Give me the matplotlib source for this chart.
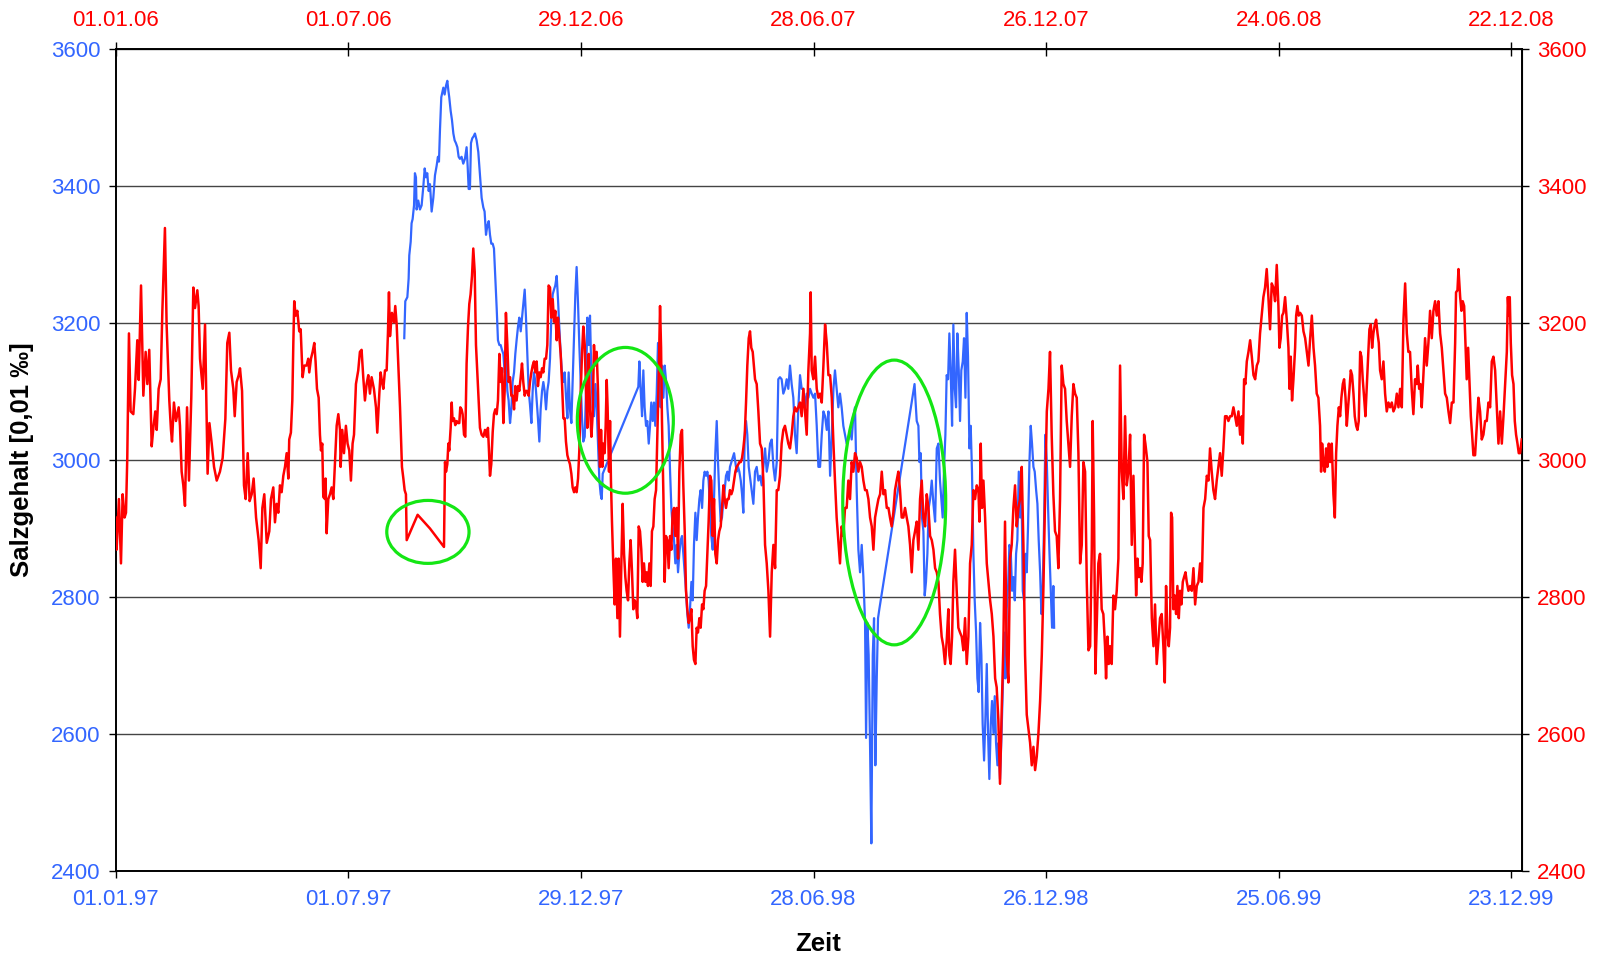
# Salzgehalt: Vergleich 1997-1999 (blau, untere Achse) mit 2006-2008 (rot, obere Achse)
import matplotlib
matplotlib.use("Agg")
import matplotlib.pyplot as plt
import matplotlib.dates as mdates
from matplotlib.patches import Ellipse
import pandas as pd

plt.rcParams['font.family'] = ['Liberation Sans', 'DejaVu Sans']

# rote Reihe: Tage ab 01.01.06, Salzgehalt [0,01 promille]
red_day = [
    0.0, 0.8, 2.6, 4.2, 5.5, 7.0, 8.1, 9.1, 10.4, 11.7,
    13.8, 15.1, 16.9, 18.0, 19.8, 21.6, 23.4, 24.7, 26.2, 28.1,
    29.4, 30.9, 32.0, 33.5, 35.1, 36.4, 38.4, 39.7, 41.8, 43.1,
    43.9, 45.4, 47.0, 49.1, 50.1, 51.4, 52.7, 54.0, 55.6, 57.1,
    58.9, 60.5, 61.8, 63.6, 64.6, 65.7, 67.8, 69.6, 70.9, 71.6,
    73.0, 74.8, 76.6, 78.7, 81.2, 83.3, 85.4, 86.9, 88.5, 89.8,
    91.6, 92.7, 94.2, 95.8, 96.8, 98.4, 99.9, 101.2, 102.8, 104.3,
    105.9, 107.4, 109.3, 111.3, 112.9, 114.2, 115.7, 117.6, 119.6, 120.9,
    122.7, 124.0, 125.3, 126.6, 127.9, 129.2, 130.5, 131.8, 133.1, 134.4,
    135.1, 136.4, 137.5, 138.3, 139.0, 140.1, 141.4, 142.9, 144.0, 145.5,
    146.8, 148.6, 149.9, 150.7, 152.0, 153.3, 154.6, 155.6, 156.7, 158.0,
    159.0, 159.8, 160.8, 161.6, 162.9, 163.4, 164.2, 165.5, 166.8, 168.1,
    169.4, 170.7, 172.0, 173.3, 174.6, 175.1, 176.4, 177.7, 179.2, 180.5,
    181.8, 183.1, 184.4, 185.5, 187.0, 188.8, 190.1, 191.4, 192.7, 194.0,
    195.3, 196.6, 197.9, 199.2, 201.0, 202.6, 203.6, 205.2, 206.2, 207.3,
    208.3, 209.6, 210.9, 211.9, 212.7, 213.5, 215.0, 216.6, 217.6, 218.7,
    219.7, 221.3, 222.8, 223.9, 224.9, 225.9, 226.5, 235.0, 244.6, 255.5,
    256.3, 257.1, 258.1, 258.9, 259.6, 260.7, 261.5, 262.2, 263.3, 264.3,
    265.4, 266.4, 267.4, 268.2, 269.2, 270.0, 271.1, 272.1, 273.1, 274.2,
    275.2, 276.2, 277.3, 278.3, 279.4, 280.4, 281.4, 282.5, 283.5, 284.8,
    286.1, 287.4, 288.7, 289.7, 290.5, 291.3, 292.3, 293.4, 294.4, 295.4,
    296.5, 297.5, 298.6, 299.6, 300.6, 301.7, 302.7, 303.7, 304.8, 305.8,
    306.9, 307.9, 308.9, 310.0, 311.0, 312.0, 313.1, 314.1, 315.2, 316.2,
    317.2, 318.3, 319.3, 320.3, 321.4, 322.4, 323.5, 324.5, 325.5, 326.6,
    327.6, 328.6, 329.7, 330.7, 331.8, 332.8, 333.8, 334.9, 335.9, 336.9,
    338.0, 339.0, 340.1, 341.1, 342.1, 343.2, 344.2, 345.2, 346.3, 347.3,
    348.4, 349.4, 350.4, 351.5, 352.5, 353.5, 354.6, 355.6, 356.7, 357.7,
    358.7, 359.8, 360.8, 361.9, 362.9, 363.9, 365.0, 366.0, 367.0, 368.1,
    369.1, 370.2, 371.2, 372.2, 373.0, 374.3, 375.3, 376.1, 376.9, 377.7,
    378.7, 379.5, 380.5, 381.3, 382.1, 382.8, 383.9, 384.7, 385.4, 386.2,
    387.3, 388.3, 389.3, 390.4, 391.4, 392.4, 393.5, 394.5, 395.6, 396.6,
    397.6, 398.7, 399.7, 400.7, 401.8, 402.8, 403.9, 404.9, 405.9, 407.0,
    408.0, 409.0, 410.1, 411.1, 412.2, 413.2, 414.2, 415.3, 416.3, 417.3,
    418.4, 419.4, 420.5, 421.5, 422.5, 423.6, 424.4, 425.1, 426.2, 427.2,
    428.2, 429.3, 430.3, 431.4, 432.4, 433.4, 434.5, 435.5, 436.5, 437.6,
    438.6, 439.7, 440.7, 441.7, 442.8, 443.8, 444.8, 445.9, 446.9, 448.0,
    449.0, 450.0, 451.1, 452.1, 453.1, 454.2, 455.2, 456.3, 457.3, 458.3,
    459.4, 460.4, 461.4, 462.5, 463.5, 464.6, 465.6, 466.6, 467.7, 468.7,
    469.7, 470.8, 471.8, 472.9, 473.9, 474.9, 476.0, 477.0, 478.0, 479.1,
    480.1, 481.2, 482.2, 483.2, 484.3, 485.3, 486.4, 487.4, 488.4, 489.5,
    490.5, 491.5, 492.6, 493.6, 494.6, 495.7, 497.5, 498.8, 500.1, 501.4,
    502.7, 504.0, 505.3, 506.6, 507.9, 509.2, 510.5, 511.8, 513.1, 514.4,
    515.6, 516.9, 518.2, 519.5, 520.8, 522.1, 523.4, 524.7, 526.0, 527.3,
    528.6, 529.9, 531.2, 532.5, 533.8, 535.1, 536.4, 537.7, 539.0, 540.3,
    540.8, 541.6, 542.9, 544.2, 545.5, 546.8, 548.1, 549.4, 550.7, 552.0,
    553.3, 554.6, 555.9, 557.2, 558.5, 559.7, 561.0, 562.3, 563.6, 564.9,
    566.2, 567.5, 568.8, 570.1, 571.4, 572.7, 574.0, 575.3, 576.6, 577.9,
    579.2, 580.5, 581.8, 583.1, 584.4, 585.7, 587.0, 588.3, 589.6, 590.9,
    592.2, 593.5, 594.8, 596.1, 597.4, 598.7, 600.0, 601.3, 602.5, 603.8,
    605.1, 606.4, 607.7, 609.0, 610.3, 611.6, 612.9, 614.2, 615.5, 616.8,
    618.1, 619.4, 620.7, 622.0, 623.3, 624.6, 625.9, 627.2, 628.5, 629.8,
    631.1, 632.4, 633.7, 635.0, 636.3, 637.6, 638.9, 640.2, 641.4, 642.7,
    644.0, 645.3, 646.6, 647.9, 648.7, 649.7, 650.8, 651.8, 653.1, 654.4,
    655.7, 657.0, 658.3, 659.6, 660.9, 662.2, 663.5, 664.8, 666.1, 667.4,
    668.7, 670.0, 671.3, 672.1, 673.1, 674.1, 675.2, 676.5, 677.8, 679.1,
    680.4, 681.7, 683.0, 684.3, 685.5, 686.8, 688.1, 689.4, 690.7, 692.0,
    693.3, 694.6, 695.9, 697.2, 698.5, 699.8, 701.1, 702.4, 703.7, 705.0,
    706.3, 707.6, 708.9, 710.2, 711.5, 712.8, 714.1, 715.4, 716.7, 718.0,
    719.3, 720.6, 721.9, 723.2, 724.5, 725.8, 727.0, 728.3, 729.6, 730.9,
    732.2, 733.5, 734.8, 736.1, 737.4, 738.7, 740.0, 741.3, 742.6, 743.9,
    745.2, 746.5, 747.8, 749.1, 750.4, 751.7, 753.0, 754.3, 755.6, 756.9,
    758.2, 759.5, 760.2, 761.3, 762.3, 763.4, 764.6, 765.9, 767.2, 768.5,
    769.8, 770.6, 771.7, 772.7, 773.7, 775.0, 776.3, 777.6, 778.9, 780.2,
    781.5, 782.8, 784.1, 785.4, 786.7, 788.0, 789.3, 790.6, 791.9, 793.2,
    794.0, 795.0, 796.0, 797.1, 798.1, 799.1, 800.2, 801.2, 802.8, 803.8,
    804.9, 806.2, 807.5, 808.7, 810.0, 811.3, 812.6, 813.9, 815.2, 816.3,
    817.3, 818.3, 819.4, 820.4, 821.2, 822.0, 823.0, 824.1, 825.1, 826.1,
    827.2, 828.2, 829.2, 830.3, 831.3, 832.4, 833.4, 834.7, 836.0, 837.3,
    838.6, 839.9, 841.2, 842.5, 843.8, 845.1, 846.4, 847.7, 849.0, 850.3,
    851.5, 852.8, 854.1, 855.4, 856.7, 858.0, 859.3, 860.6, 861.9, 863.2,
    864.5, 865.8, 867.1, 868.4, 869.7, 871.0, 872.3, 873.6, 874.9, 876.2,
    877.0, 878.0, 879.0, 880.1, 881.4, 882.7, 884.0, 885.3, 886.6, 887.9,
    889.1, 890.4, 891.7, 893.0, 894.3, 895.6, 896.9, 898.2, 899.5, 900.8,
    902.1, 903.4, 904.7, 905.5, 906.5, 907.6, 908.6, 909.9, 911.2, 912.5,
    913.3, 914.3, 915.3, 916.4, 917.7, 918.5, 919.5, 920.5, 921.6, 922.9,
    924.2, 925.5, 926.8, 928.1, 929.4, 930.7, 932.0, 933.2, 934.5, 935.8,
    937.1, 937.9, 938.7, 939.7, 940.8, 941.8, 942.8, 943.9, 944.9, 946.2,
    947.5, 948.6, 949.6, 950.6, 951.7, 952.7, 953.7, 954.8, 955.8, 956.9,
    957.9, 958.9, 960.0, 961.0, 962.0, 963.1, 964.1, 965.2, 966.2, 967.2,
    968.3, 969.3, 970.3, 971.4, 972.4, 973.5, 974.5, 975.5, 976.6, 977.6,
    978.6, 979.7, 980.7, 981.8, 982.8, 983.8, 985.1, 986.4, 987.7, 989.0,
    990.3, 991.6, 992.9, 994.2, 995.5, 996.8, 998.1, 999.4, 1000.7, 1002.0,
    1003.3, 1004.6, 1005.8, 1007.1, 1008.4, 1009.7, 1011.0, 1012.3, 1013.1, 1014.2,
    1015.2, 1016.2, 1017.5, 1018.8, 1020.1, 1021.4, 1022.7, 1024.0, 1025.3, 1026.6,
    1027.9, 1029.2, 1030.5, 1031.8, 1033.1, 1034.4, 1035.7, 1037.0, 1038.3, 1039.6,
    1040.9, 1042.2, 1042.9, 1044.0, 1044.8, 1046.1, 1047.1, 1048.1, 1049.2, 1050.2,
    1051.2, 1052.3, 1053.3, 1054.4, 1055.4, 1056.4, 1057.7, 1059.0, 1060.3, 1061.6,
    1062.9, 1064.2, 1065.5, 1066.8, 1068.1, 1069.4, 1070.7, 1072.0, 1073.3, 1074.6,
    1075.9, 1077.2, 1078.5, 1079.8, 1081.1, 1082.4, 1083.2, 1083.9, 1084.7, 1085.5,
    1086.5, 1087.6, 1088.6, 1089.6, 1090.7, 1091.7, 1092.7, 1094.0,
]
red_val = [
    2916, 2869, 2943, 2849, 2950, 2916, 2923, 3003, 3185, 3071,
    3067, 3104, 3175, 3117, 3255, 3094, 3158, 3111, 3161, 3020,
    3047, 3071, 3044, 3104, 3118, 3218, 3339, 3198, 3087, 3044,
    3027, 3084, 3057, 3077, 3050, 2983, 2963, 2933, 3077, 2970,
    3091, 3252, 3222, 3248, 3225, 3148, 3104, 3198, 3050, 2980,
    3054, 3024, 2990, 2970, 2983, 3003, 3060, 3171, 3186, 3131,
    3104, 3064, 3114, 3124, 3134, 3101, 2963, 2943, 3010, 2940,
    2950, 2973, 2916, 2883, 2842, 2930, 2950, 2879, 2896, 2943,
    2960, 2909, 2936, 2923, 2963, 2953, 2977, 2990, 3010, 2973,
    3030, 3040, 3087, 3171, 3232, 3211, 3218, 3188, 3191, 3121,
    3138, 3138, 3148, 3128, 3148, 3158, 3171, 3144, 3104, 3091,
    3037, 3014, 3024, 2946, 2943, 2973, 2893, 2943, 2950, 2960,
    2943, 2997, 3050, 3067, 3044, 2990, 3044, 3010, 3050, 3024,
    3014, 2970, 3024, 3037, 3111, 3131, 3158, 3161, 3121, 3087,
    3111, 3124, 3097, 3121, 3104, 3077, 3040, 3097, 3128, 3114,
    3104, 3131, 3131, 3185, 3245, 3181, 3215, 3201, 3225, 3198,
    3151, 3077, 2990, 2973, 2956, 2950, 2883, 2920, 2900, 2873,
    2997, 2983, 2994, 3024, 3014, 3047, 3084, 3057, 3061, 3051,
    3057, 3054, 3054, 3077, 3074, 3067, 3037, 3034, 3141, 3195,
    3228, 3242, 3269, 3309, 3275, 3168, 3128, 3087, 3047, 3037,
    3034, 3044, 3034, 3047, 3014, 2977, 2994, 3041, 3067, 3074,
    3067, 3087, 3155, 3114, 3134, 3054, 3101, 3215, 3168, 3114,
    3121, 3094, 3094, 3074, 3108, 3087, 3108, 3101, 3121, 3141,
    3114, 3094, 3101, 3101, 3094, 3114, 3128, 3138, 3144, 3128,
    3144, 3108, 3128, 3121, 3134, 3128, 3148, 3148, 3168, 3255,
    3252, 3208, 3235, 3202, 3218, 3175, 3208, 3181, 3155, 3114,
    3061, 3061, 3027, 3007, 3000, 2994, 2980, 2960, 2953, 2960,
    2953, 2973, 3014, 3101, 3155, 3195, 3168, 3101, 3047, 3155,
    3074, 3034, 3067, 3168, 3138, 3158, 3104, 3030, 2990, 3044,
    2990, 3024, 3010, 3050, 3117, 3077, 2983, 3057, 2970, 2910,
    2842, 2789, 2856, 2769, 2856, 2742, 2849, 2936, 2863, 2829,
    2809, 2795, 2849, 2883, 2836, 2782, 2795, 2789, 2769, 2903,
    2896, 2869, 2822, 2849, 2822, 2836, 2816, 2849, 2816, 2896,
    2903, 2943, 2956, 3037, 3117, 3225, 3164, 3057, 2950, 2822,
    2889, 2883, 2842, 2889, 2869, 2923, 2930, 2889, 2930, 2856,
    2983, 3037, 3044, 2963, 2896, 2809, 2782, 2762, 2769, 2782,
    2728, 2708, 2702, 2755, 2748, 2769, 2755, 2789, 2782, 2809,
    2816, 2863, 2910, 2977, 2970, 2889, 2943, 2863, 2849, 2883,
    2896, 2903, 2930, 2963, 2943, 2930, 2943, 2943, 2956, 2950,
    2956, 2970, 2983, 2990, 2993, 2997, 2997, 3003, 3017, 3037,
    3084, 3138, 3178, 3188, 3164, 3158, 3118, 3111, 3071, 3024,
    3017, 2970, 2876, 2849, 2809, 2742, 2836, 2876, 2842, 2956,
    2956, 2977, 3024, 3044, 3050, 3037, 3024, 3017, 3037, 3064,
    3077, 3071, 3077, 3084, 3064, 3104, 3071, 3037, 3131, 3185,
    3245, 3131, 3118, 3151, 3104, 3091, 3097, 3084, 3138, 3198,
    3171, 3124, 3124, 3091, 3024, 2970, 2916, 2883, 2849, 2903,
    2889, 2930, 2930, 2970, 2943, 2997, 2983, 3010, 3003, 2983,
    2997, 2990, 2970, 2956, 2956, 2943, 2916, 2903, 2869, 2916,
    2930, 2943, 2950, 2983, 2950, 2956, 2930, 2930, 2916, 2903,
    2923, 2956, 2970, 2983, 2956, 2916, 2916, 2930, 2916, 2903,
    2876, 2836, 2883, 2896, 2910, 2869, 2943, 2970, 2916, 2903,
    2950, 2930, 2889, 2883, 2869, 2842, 2836, 2822, 2775, 2742,
    2728, 2702, 2735, 2782, 2715, 2702, 2742, 2822, 2869, 2809,
    2755, 2748, 2742, 2722, 2769, 2702, 2742, 2849, 2876, 2956,
    2943, 2963, 2956, 2910, 3024, 2930, 2970, 2916, 2849, 2822,
    2795, 2775, 2742, 2681, 2668, 2621, 2527, 2634, 2728, 2910,
    2715, 2675, 2856, 2876, 2930, 2963, 2903, 2930, 2943, 2990,
    2876, 2715, 2628, 2608, 2587, 2554, 2581, 2547, 2567, 2601,
    2648, 2715, 2816, 2950, 3071, 3104, 3158, 3037, 2950, 2896,
    2889, 2842, 2943, 3138, 3111, 3104, 3057, 3024, 2990, 3064,
    3111, 3097, 3091, 3010, 2849, 2876, 2997, 2983, 2822, 2722,
    2728, 2869, 3057, 2916, 2688, 2762, 2849, 2863, 2782, 2775,
    2728, 2681, 2742, 2702, 2728, 2702, 2802, 2782, 2809, 2856,
    3138, 2983, 2943, 3064, 2963, 2983, 3037, 2876, 2977, 2863,
    2802, 2856, 2829, 2842, 2822, 2849, 3037, 3024, 2997, 2889,
    2883, 2769, 2728, 2789, 2702, 2735, 2769, 2775, 2728, 2675,
    2816, 2748, 2728, 2755, 2923, 2916, 2782, 2802, 2775, 2816,
    2769, 2809, 2789, 2822, 2829, 2836, 2822, 2809, 2816, 2809,
    2842, 2789, 2816, 2822, 2849, 2822, 2930, 2943, 2977, 2970,
    3017, 2983, 2956, 2943, 2970, 2990, 3010, 2977, 3017, 3064,
    3064, 3057, 3064, 3064, 3077, 3064, 3050, 3071, 3037, 3064,
    3024, 3118, 3111, 3144, 3158, 3175, 3151, 3124, 3118, 3138,
    3144, 3185, 3211, 3238, 3252, 3279, 3238, 3191, 3258, 3252,
    3232, 3285, 3225, 3164, 3178, 3211, 3215, 3238, 3205, 3164,
    3104, 3151, 3087, 3118, 3164, 3211, 3225, 3211, 3215, 3211,
    3188, 3178, 3158, 3138, 3178, 3211, 3164, 3138, 3097, 3091,
    3050, 2983, 3024, 2997, 2983, 3017, 2990, 3024, 2997, 3024,
    2950, 2916, 3010, 3050, 3077, 3064, 3091, 3111, 3118, 3091,
    3050, 3077, 3104, 3131, 3124, 3097, 3064, 3050, 3044, 3057,
    3158, 3151, 3118, 3091, 3064, 3111, 3151, 3191, 3198, 3164,
    3185, 3198, 3205, 3185, 3171, 3131, 3118, 3144, 3097, 3071,
    3084, 3077, 3084, 3071, 3077, 3097, 3077, 3104, 3077, 3205,
    3258, 3185, 3158, 3158, 3104, 3067, 3118, 3111, 3138, 3104,
    3111, 3077, 3124, 3178, 3138, 3171, 3218, 3178, 3218, 3232,
    3211, 3232, 3185, 3164, 3131, 3097, 3091, 3071, 3054, 3084,
    3084, 3171, 3245, 3248, 3279, 3238, 3218, 3232, 3225, 3171,
    3118, 3164, 3118, 3064, 3037, 3007, 3007, 3050, 3091, 3071,
    3030, 3037, 3057, 3057, 3084, 3077, 3144, 3151, 3131, 3077,
    3024, 3071, 3024, 3064, 3111, 3158, 3238, 3211, 3238, 3171,
    3124, 3111, 3057, 3037, 3024, 3010, 3010, 3030,
]

# blaue Reihe: Tage ab 01.01.97
blue_day = [
    224.6, 225.4, 227.0, 228.0, 228.5, 229.6, 230.3, 231.1, 232.2, 232.9,
    233.7, 234.2, 235.5, 236.8, 238.1, 239.4, 240.5, 241.5, 242.5, 243.6,
    244.6, 245.9, 247.2, 248.5, 249.8, 250.8, 251.6, 252.4, 253.4, 254.2,
    255.0, 256.0, 257.1, 258.1, 258.9, 259.6, 260.7, 261.7, 262.8, 263.8,
    264.8, 265.9, 266.9, 267.9, 269.2, 270.5, 271.8, 273.1, 273.9, 274.7,
    275.7, 276.5, 277.5, 278.6, 279.6, 280.9, 282.2, 283.5, 284.8, 286.1,
    287.1, 288.2, 289.2, 290.3, 291.3, 292.3, 293.4, 294.4, 295.4, 296.5,
    297.5, 298.6, 299.6, 300.6, 301.7, 302.7, 303.7, 304.8, 305.8, 306.9,
    307.9, 308.9, 310.0, 311.0, 312.0, 313.1, 314.1, 315.2, 316.2, 317.2,
    318.3, 319.3, 320.3, 321.4, 322.4, 323.5, 324.5, 325.5, 326.6, 327.6,
    328.6, 329.7, 330.7, 331.8, 332.8, 333.8, 334.9, 335.9, 336.9, 338.0,
    339.0, 340.1, 341.1, 342.1, 343.2, 344.2, 345.2, 346.3, 347.3, 348.4,
    349.4, 350.4, 351.5, 352.5, 353.5, 354.6, 355.6, 356.7, 357.7, 358.7,
    359.8, 360.8, 361.9, 362.9, 363.9, 365.0, 366.0, 367.0, 368.1, 369.1,
    370.1, 371.2, 372.2, 373.3, 374.3, 375.3, 376.4, 377.4, 378.2, 379.0,
    406.7, 407.5, 408.5, 409.6, 410.6, 411.6, 412.7, 413.7, 414.8, 415.8,
    416.8, 417.9, 418.9, 419.9, 421.0, 422.0, 423.1, 424.1, 425.1, 426.2,
    427.2, 428.2, 429.3, 430.3, 431.4, 432.4, 433.4, 434.5, 435.5, 436.5,
    437.6, 438.6, 439.7, 440.7, 441.7, 442.8, 443.8, 444.8, 445.9, 446.9,
    448.0, 449.0, 450.0, 451.1, 452.1, 453.1, 454.2, 455.2, 456.3, 457.3,
    458.3, 459.4, 460.4, 461.4, 462.5, 463.5, 464.6, 465.6, 466.6, 467.7,
    468.7, 469.7, 470.8, 471.8, 472.9, 473.9, 474.9, 476.0, 477.0, 478.0,
    479.1, 480.1, 481.2, 482.2, 483.2, 484.3, 485.3, 486.4, 487.4, 488.4,
    489.5, 490.5, 491.5, 492.6, 494.9, 496.2, 497.5, 498.8, 500.1, 501.4,
    502.7, 504.0, 505.3, 506.6, 507.9, 509.2, 510.5, 511.8, 513.1, 514.4,
    515.6, 516.9, 518.2, 519.5, 520.8, 522.1, 523.4, 524.7, 526.0, 527.3,
    528.6, 529.9, 531.2, 532.5, 533.8, 535.1, 536.4, 537.7, 539.0, 540.3,
    541.6, 542.9, 544.2, 545.5, 546.8, 548.1, 549.4, 550.7, 552.0, 553.3,
    554.6, 555.9, 557.2, 558.5, 559.7, 561.0, 562.3, 563.6, 564.9, 566.2,
    567.5, 568.8, 570.1, 571.4, 572.7, 574.0, 575.3, 576.6, 577.9, 579.2,
    580.5, 581.8, 583.1, 583.9, 584.9, 585.9, 587.0, 588.0, 589.1, 590.1,
    591.1, 592.2, 593.2, 594.2, 621.6, 623.3, 624.6, 625.4, 626.4, 627.4,
    628.5, 629.5, 630.5, 631.6, 632.6, 633.7, 635.0, 636.3, 637.6, 638.9,
    640.2, 641.4, 642.7, 643.5, 644.6, 645.6, 646.6, 647.7, 648.7, 649.7,
    650.8, 651.8, 652.9, 653.9, 654.9, 656.0, 657.0, 658.0, 659.1, 660.1,
    661.2, 662.2, 663.2, 664.3, 665.3, 666.3, 667.4, 668.4, 669.5, 670.5,
    671.5, 672.6, 673.6, 674.6, 675.7, 676.7, 677.8, 678.8, 679.8, 680.9,
    681.9, 683.0, 684.0, 685.0, 686.1, 687.1, 688.1, 689.2, 690.2, 691.3,
    692.3, 693.3, 694.4, 695.4, 696.4, 697.5, 698.5, 699.6, 700.6, 701.6,
    702.7, 703.7, 704.7, 705.8, 706.8, 707.9, 708.9, 709.9, 711.0, 712.0,
    713.0, 714.1, 715.1, 716.2, 717.2, 718.2, 719.3, 720.3, 721.3, 722.4,
    723.4, 724.5, 725.5, 726.5, 727.6, 728.6, 729.6, 730.2,
]
blue_val = [
    3178, 3232, 3238, 3265, 3299, 3319, 3346, 3352, 3372, 3419,
    3413, 3366, 3379, 3366, 3372, 3399, 3426, 3413, 3419, 3393,
    3403, 3363, 3383, 3416, 3430, 3443, 3436, 3483, 3530, 3537,
    3544, 3534, 3547, 3554, 3540, 3530, 3510, 3497, 3477, 3467,
    3463, 3457, 3443, 3440, 3443, 3433, 3440, 3457, 3430, 3396,
    3396, 3463, 3470, 3473, 3477, 3467, 3450, 3416, 3383, 3369,
    3363, 3329, 3342, 3349, 3329, 3316, 3316, 3309, 3269, 3222,
    3175, 3168, 3168, 3161, 3155, 3128, 3148, 3101, 3087, 3054,
    3074, 3114, 3128, 3155, 3175, 3195, 3208, 3188, 3208, 3228,
    3249, 3208, 3155, 3101, 3081, 3054, 3101, 3128, 3114, 3087,
    3061, 3027, 3074, 3101, 3114, 3101, 3074, 3101, 3114, 3148,
    3208, 3242, 3249, 3255, 3269, 3235, 3195, 3155, 3128, 3114,
    3128, 3094, 3061, 3128, 3074, 3054, 3114, 3181, 3242, 3282,
    3228, 3168, 3114, 3061, 3027, 3034, 3101, 3208, 3168, 3211,
    3131, 3077, 3064, 3111, 3077, 3024, 2970, 2950, 2943, 2980,
    3107, 3144, 3104, 3064, 3131, 3077, 3050, 3057, 3024, 3050,
    3084, 3057, 3084, 3050, 3097, 3171, 3118, 3077, 3138, 3091,
    3138, 3118, 3077, 3050, 2983, 2930, 2903, 2883, 2849, 2876,
    2836, 2863, 2883, 2889, 2863, 2836, 2809, 2775, 2755, 2782,
    2822, 2795, 2876, 2923, 2883, 2916, 2943, 2956, 2930, 2970,
    2983, 2977, 2983, 2970, 2930, 2889, 2869, 2943, 3010, 3057,
    2997, 2950, 2910, 2916, 2943, 2956, 2977, 2983, 2970, 2990,
    2997, 3003, 3010, 2997, 2983, 2990, 2983, 2970, 2950, 2923,
    3037, 3057, 3037, 2990, 2956, 2936, 2983, 2990, 2970, 2977,
    2963, 2990, 3017, 2983, 2997, 3024, 3030, 2990, 2970, 2997,
    3118, 3121, 3118, 3097, 3104, 3118, 3104, 3138, 3111, 3091,
    3037, 3010, 3077, 3124, 3104, 3104, 3077, 3097, 3091, 3104,
    3097, 3091, 3097, 3050, 2990, 2990, 3037, 3071, 3064, 3044,
    3071, 2977, 3037, 3104, 3131, 3104, 3077, 3097, 3077, 3050,
    3037, 3024, 3030, 3044, 3030, 3064, 3077, 2956, 2869, 2836,
    2876, 2829, 2762, 2594, 2762, 2715, 2581, 2440, 2715, 2769,
    2554, 2681, 2769, 2782, 3111, 3057, 3050, 2997, 3010, 2916,
    2896, 2802, 2822, 2863, 2930, 2943, 2970, 2936, 2910, 3017,
    3024, 2970, 2936, 2916, 2990, 3037, 3124, 3118, 3185, 3131,
    3050, 3198, 3104, 3077, 3185, 3131, 3057, 3131, 3144, 3178,
    3091, 3215, 3151, 3017, 3050, 2983, 2863, 2795, 2748, 2681,
    2661, 2762, 2715, 2614, 2561, 2621, 2702, 2601, 2534, 2614,
    2648, 2601, 2655, 2587, 2554, 2587, 2534, 2594, 2661, 2748,
    2681, 2782, 2816, 2876, 2869, 2809, 2829, 2795, 2863, 2883,
    2983, 2916, 2983, 2809, 2795, 2863, 2836, 2903, 2997, 3050,
    3024, 2990, 2983, 2956, 2936, 2883, 2836, 2775, 2809, 2910,
    3037, 2997, 2930, 2869, 2809, 2755, 2816, 2755,
]

# markierte Stellen (gruene Ellipsen): Tage ab Achsenbeginn, Salzgehalt
mark_day = [243.0, 396.6, 605.8]
mark_val = [2895, 3058, 2938]
mark_w = [64.0, 74.7, 80.1]
mark_h = [92, 213, 416]

start_blue = pd.Timestamp('1997-01-01')
start_red = pd.Timestamp('2006-01-01')
span_days = 1094
tick_step = 181
y_ticks = [2400, 2600, 2800, 3000, 3200, 3400, 3600]

BLUE = '#3366FF'
RED = '#FF0000'
GREEN = '#14E614'
FS = 16

fig = plt.figure(figsize=(16.03, 9.56), dpi=100)
fig.subplots_adjust(left=0.0721, right=0.9493, bottom=0.0892, top=0.9484)
ax = fig.add_subplot(111)

blue_t = start_blue + pd.to_timedelta(blue_day, unit='D')
ax.plot(blue_t, blue_val, color=BLUE, lw=1.6, zorder=2)

ax.set_ylim(2400, 3600)
ax.set_yticks(y_ticks)
ax.set_xlim(start_blue, start_blue + pd.Timedelta(days=span_days))
ax.set_xticks([start_blue + pd.Timedelta(days=tick_step * k) for k in range(7)])
ax.xaxis.set_major_formatter(mdates.DateFormatter('%d.%m.%y'))
ax.yaxis.grid(True, color='#444444', lw=1.0)
ax.tick_params(axis='x', direction='out', length=5, width=1, labelsize=FS,
               labelcolor=BLUE, pad=8.5)
ax.tick_params(axis='y', direction='out', length=5, width=1, labelsize=FS,
               labelcolor=BLUE, pad=6)

ax.set_xlabel('Zeit', fontsize=18.5, fontweight='bold', va='center')
ax.xaxis.set_label_coords(0.5, -0.089)
ax.set_ylabel('Salzgehalt [0,01 ‰]', fontsize=18.5, fontweight='bold', va='center')
ax.yaxis.set_label_coords(-0.0662, 0.5)

# rechte Achse (rot)
sec = ax.secondary_yaxis('right')
sec.set_yticks(y_ticks)
sec.tick_params(axis='y', direction='out', length=5, width=1, labelsize=FS,
                labelcolor=RED, pad=6)

# obere Zeitachse (rot)
ax2 = ax.twiny()
red_t = start_red + pd.to_timedelta(red_day, unit='D')
ax2.plot(red_t, red_val, color=RED, lw=1.8, zorder=3)
ax2.set_xlim(start_red, start_red + pd.Timedelta(days=span_days))
ax2.set_xticks([start_red + pd.Timedelta(days=tick_step * k) for k in range(7)])
ax2.xaxis.set_major_formatter(mdates.DateFormatter('%d.%m.%y'))
ax2.tick_params(axis='x', direction='inout', length=10, width=1, labelsize=FS,
                labelcolor=RED, pad=8.5)

for d, v, w, h in zip(mark_day, mark_val, mark_w, mark_h):
    cx = mdates.date2num(start_red + pd.Timedelta(days=d))
    ax2.add_patch(Ellipse((cx, v), w, h, fill=False, ec=GREEN, lw=2.3, zorder=5))

for a in (ax, ax2):
    for s in a.spines.values():
        s.set_color('black')
        s.set_linewidth(1.2)

fig.savefig('out.png', dpi=100)
